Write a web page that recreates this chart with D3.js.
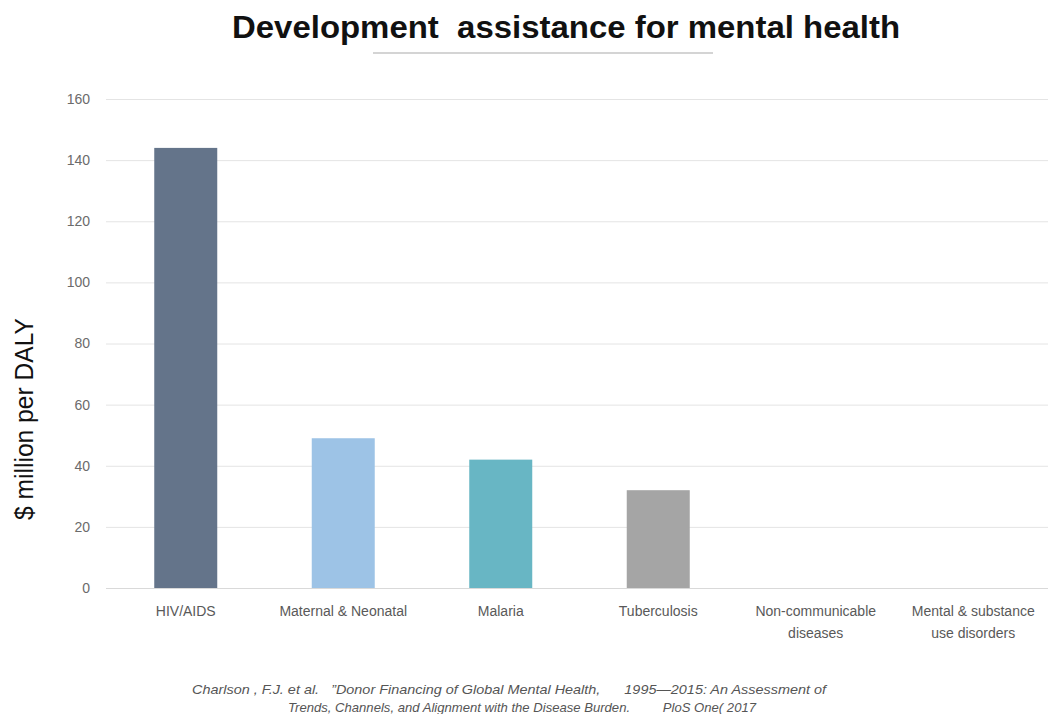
<!DOCTYPE html>
<html><head><meta charset="utf-8">
<script src="https://cdn.jsdelivr.net/npm/d3@7"></script>
<style>body{margin:0;background:#fff;}svg{display:block;} text{white-space:pre;}</style>
</head><body>
<script>
const categories = [["HIV/AIDS"],["Maternal & Neonatal"],["Malaria"],["Tuberculosis"],["Non-communicable","diseases"],["Mental & substance","use disorders"]];
const values = [144, 49, 42, 32, 0, 0];
const colors = ["#64748a","#9dc3e6","#68b6c4","#a5a5a5","#a5a5a5","#a5a5a5"];
const yTicks = [0,20,40,60,80,100,120,140,160];
const titleText = "Development  assistance for mental health";
const yTitle = "$ million per DALY";
const citation = ["Charlson , F.J. et al.   \u201dDonor Financing of Global Mental Health,      1995\u20142015: An Assessment of", "Trends, Channels, and Alignment with the Disease Burden.         PloS One( 2017"];

const W = 1048, H = 714;
const svg = d3.select("body").append("svg").attr("width", W).attr("height", H);

const x = d3.scaleBand().domain(d3.range(categories.length)).range([107, 1052]).paddingInner(0.6).paddingOuter(0.3);
const y = d3.scaleLinear().domain([0,160]).range([588, 99]);

// title
svg.append("text").attr("x", 566).attr("y", 38).attr("text-anchor","middle")
  .attr("font-family","Liberation Sans, Arial, sans-serif").attr("font-weight","bold").attr("font-size",31)
  .attr("fill","#111").attr("textLength",668).attr("lengthAdjust","spacingAndGlyphs").text(titleText);
svg.append("line").attr("x1",373).attr("x2",713).attr("y1",53).attr("y2",53).attr("stroke","#d4d4d4").attr("stroke-width",2);

// grid
const yAxis = d3.axisLeft(y).tickValues(yTicks).tickSize(-(1048-106)).tickPadding(16);
const gy = svg.append("g").attr("transform","translate(106,0)").call(yAxis);
gy.select(".domain").remove();
gy.selectAll(".tick line").attr("stroke","#e4e4e4").attr("stroke-width",1);
gy.selectAll(".tick text").attr("fill","#6b6b6b").attr("font-size",14).attr("font-family","Liberation Sans, Arial, sans-serif");

// bars
svg.append("g").selectAll("rect").data(values).join("rect")
  .attr("x",(d,i)=>x(i)).attr("width",x.bandwidth())
  .attr("y",d=>y(d)).attr("height",d=>y(0)-y(d))
  .attr("fill",(d,i)=>colors[i]);

// baseline
svg.append("line").attr("x1",106).attr("x2",1048).attr("y1",y(0)+0.5).attr("y2",y(0)+0.5).attr("stroke","#d9d9d9").attr("stroke-width",1);

// x labels
const xl = svg.append("g");
categories.forEach((lines,i)=>{
  const t = xl.append("text").attr("text-anchor","middle").attr("fill","#595959")
    .attr("font-family","Liberation Sans, Arial, sans-serif").attr("font-size",14);
  lines.forEach((l,j)=>{
    t.append("tspan").attr("x", x(i)+x.bandwidth()/2).attr("y", 616 + j*22).text(l);
  });
});

// y title
svg.append("text").attr("transform","translate(33,419) rotate(-90)").attr("text-anchor","middle")
  .attr("font-family","Liberation Sans, Arial, sans-serif").attr("font-size",25).attr("fill","#111")
  .attr("textLength",202).attr("lengthAdjust","spacingAndGlyphs").text(yTitle);

// citation
const citX = [509, 522], citW = [634, 468];
citation.forEach((c,j)=>{
  svg.append("text").attr("x", citX[j]).attr("y", 694 + j*18).attr("text-anchor","middle")
    .attr("font-family","Liberation Sans, Arial, sans-serif").attr("font-style","italic")
    .attr("font-size",13).attr("fill","#555").attr("textLength",citW[j]).attr("lengthAdjust","spacingAndGlyphs").text(c);
});
</script>
</body></html>
